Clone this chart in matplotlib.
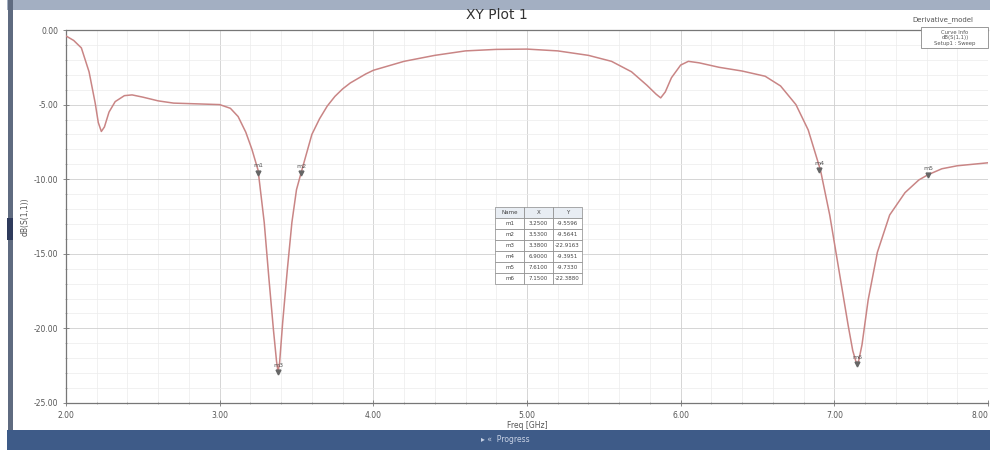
import matplotlib
matplotlib.use("Agg")
from matplotlib import pyplot as plt
from matplotlib.patches import Rectangle
from matplotlib.ticker import MultipleLocator, FormatStrFormatter

# S11 sweep
freq = [2.00, 2.05, 2.10, 2.15, 2.19, 2.21, 2.23, 2.25, 2.28, 2.32, 2.38, 2.43,
        2.50, 2.60, 2.70, 2.85, 3.00, 3.07, 3.12, 3.17, 3.21, 3.25, 3.29, 3.32,
        3.35, 3.37, 3.38, 3.39, 3.41, 3.44, 3.47, 3.50, 3.54, 3.60, 3.65, 3.70,
        3.75, 3.80, 3.85, 3.90, 3.95, 4.00, 4.20, 4.40, 4.60, 4.80, 5.00, 5.20,
        5.40, 5.55, 5.68, 5.78, 5.84, 5.87, 5.90, 5.94, 6.00, 6.05, 6.12, 6.25,
        6.40, 6.55, 6.65, 6.75, 6.83, 6.91, 6.97, 7.03, 7.09, 7.12, 7.14, 7.15,
        7.16, 7.18, 7.22, 7.28, 7.36, 7.46, 7.55, 7.61, 7.70, 7.80, 7.90, 8.00]
s11 = [-0.4, -0.7, -1.2, -2.8, -4.9, -6.2, -6.8, -6.5, -5.5, -4.8, -4.4, -4.35,
       -4.5, -4.75, -4.9, -4.95, -5.0, -5.25, -5.8, -6.85, -8.0, -9.4, -12.9, -16.6,
       -20.1, -22.2, -22.9, -22.3, -19.6, -16.1, -12.9, -10.7, -9.2, -7.0, -5.95, -5.1,
       -4.45, -3.95, -3.55, -3.25, -2.95, -2.7, -2.1, -1.7, -1.4, -1.3, -1.28, -1.4,
       -1.7, -2.1, -2.8, -3.7, -4.3, -4.55, -4.15, -3.2, -2.35, -2.1, -2.2, -2.5,
       -2.75, -3.1, -3.75, -5.0, -6.7, -9.4, -12.4, -16.1, -19.8, -21.5, -22.2, -22.4,
       -22.1, -21.1, -18.1, -14.9, -12.4, -10.9, -10.05, -9.7, -9.3, -9.1, -9.0, -8.9]

xticks = [2.0, 3.0, 4.0, 5.0, 6.0, 7.0, 8.0]

marker_names = ["m1", "m2", "m3", "m4", "m5", "m6"]
marker_freq = [3.25, 3.53, 3.38, 6.90, 7.61, 7.15]
marker_db = [-9.5596, -9.5641, -22.9163, -9.3951, -9.7330, -22.3880]

W, H = 990, 457
fig = plt.figure(figsize=(W / 100, H / 100), dpi=100)

def px_rect(x0, y0, x1, y1, **kw):
    # rectangle given in screenshot pixels (origin top-left)
    fig.patches.append(Rectangle((x0 / W, 1 - y1 / H), (x1 - x0) / W, (y1 - y0) / H,
                                 transform=fig.transFigure, **kw))

# window chrome around the plot
px_rect(7, 0, 990, 10, facecolor="#a3afc2", edgecolor="none")
px_rect(8, 0, 13, 430, facecolor="#5f6b80", edgecolor="none")
px_rect(7, 218, 13, 240, facecolor="#2f3b5c", edgecolor="none")
px_rect(7, 430, 990, 450, facecolor="#3e5b88", edgecolor="none")
fig.text(505 / W, 1 - 440 / H, "\u25b8 \u00ab  Progress", color="#c9d3e6",
         fontsize=5.5, ha="center", va="center")

ax = fig.add_axes([66 / W, 1 - 403 / H, 922 / W, 373 / H])
ax.plot(freq, s11, color="#c98585", linewidth=1.1, zorder=3)

ax.set_xlim(2.0, 8.0)
ax.set_ylim(-25.0, 0.0)
ax.set_xticks(xticks)
ax.set_xticklabels(["%.2f" % t for t in xticks])
ax.xaxis.set_minor_locator(MultipleLocator(0.2))
ax.yaxis.set_major_locator(MultipleLocator(5.0))
ax.yaxis.set_minor_locator(MultipleLocator(1.0))
ax.yaxis.set_major_formatter(FormatStrFormatter("%.2f"))
ax.grid(which="major", color="#cfcfcf", linewidth=0.6)
ax.grid(which="minor", color="#ececec", linewidth=0.5)
ax.tick_params(which="major", labelsize=5.5, labelcolor="#555555", color="#777777",
               length=4, direction="inout", width=0.6)
ax.tick_params(which="minor", color="#999999", length=2, direction="inout", width=0.5)
for side in ["left", "bottom", "top"]:
    ax.spines[side].set_color("#777777")
    ax.spines[side].set_linewidth(0.9)
ax.spines["right"].set_visible(False)
ax.get_xticklabels()[-1].set_horizontalalignment("right")

ax.set_xlabel("Freq [GHz]", fontsize=5.5, color="#555555", labelpad=1)
ax.set_ylabel("dB(S(1,1))", fontsize=5.5, color="#555555")
ax.yaxis.set_label_coords((30 - 66) / 922, 0.5)

# markers
for name, f, d in zip(marker_names, marker_freq, marker_db):
    ax.plot(f, d, marker="v", markersize=3.5, color="#666666", zorder=4)
    ax.annotate(name, (f, d), xytext=(0, 3), textcoords="offset points",
                ha="center", va="bottom", fontsize=4.5, color="#555555")

# marker table
rows = [[n, "%.4f" % f, "%.4f" % d] for n, f, d in zip(marker_names, marker_freq, marker_db)]
tbl = ax.table(cellText=rows, colLabels=["Name", "X", "Y"],
               bbox=[(495 - 66) / 922, (403 - 284) / 373, 87 / 922, 77 / 373],
               cellLoc="center", zorder=5)
tbl.auto_set_font_size(False)
tbl.set_fontsize(4)
for (r, c), cell in tbl.get_celld().items():
    cell.set_edgecolor("#888888")
    cell.set_linewidth(0.5)
    cell.set_facecolor("#e8edf3" if r == 0 else "white")
    cell.get_text().set_color("#444444")

fig.text(497 / W, 1 - 15 / H, "XY Plot 1", fontsize=10, color="#333333",
         ha="center", va="center")
fig.text(943 / W, 1 - 20 / H, "Derivative_model", fontsize=5, color="#555555",
         ha="center", va="center")

# curve info box
px_rect(921, 27, 988, 48, facecolor="white", edgecolor="#888888", linewidth=0.6)
fig.text(955 / W, 1 - 32 / H, "Curve Info", fontsize=3.8, color="#555555",
         ha="center", va="center")
fig.text(955 / W, 1 - 38 / H, "dB(S(1,1))", fontsize=3.8, color="#555555",
         ha="center", va="center")
fig.text(955 / W, 1 - 44 / H, "Setup1 : Sweep", fontsize=3.8, color="#555555",
         ha="center", va="center")

fig.savefig("out.png", dpi=100)
